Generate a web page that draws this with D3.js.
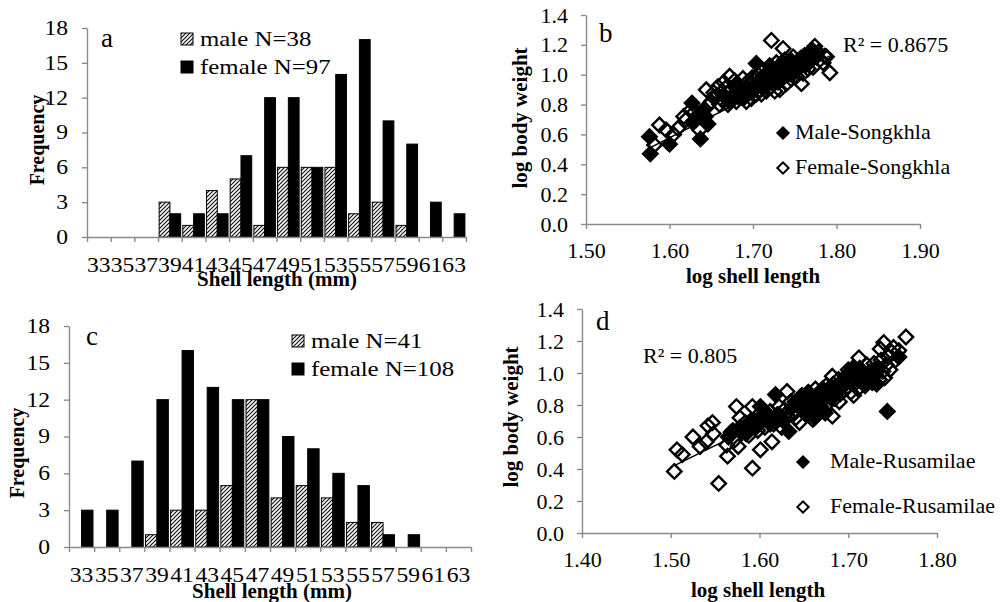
<!DOCTYPE html>
<html>
<head>
<meta charset="utf-8">
<script src="https://cdn.jsdelivr.net/npm/d3@7"></script>
<style>
  html, body { margin: 0; padding: 0; background: #fff; }
  svg { display: block; font-family: "Liberation Serif", "Times New Roman", serif; }
</style>
</head>
<body>
<div id="chart"></div>
<script>
/* Data: shell length classes (mm) and frequencies */
const lengthClasses = ['33', '35', '37', '39', '41', '43', '45', '47', '49', '51', '53', '55', '57', '59', '61', '63'];
const maleSongkhla = [0, 0, 0, 3, 1, 4, 5, 1, 6, 6, 6, 2, 3, 1, 0, 0];
const femaleSongkhla = [0, 0, 0, 2, 2, 2, 7, 12, 12, 6, 14, 17, 10, 8, 3, 2];
const maleRusamilae = [0, 0, 0, 1, 3, 3, 5, 12, 4, 5, 4, 2, 2, 0, 0, 0];
const femaleRusamilae = [3, 3, 7, 12, 16, 13, 12, 12, 9, 8, 6, 5, 1, 1, 0, 0];
const freqTicks = [0, 3, 6, 9, 12, 15, 18];

/* Data: log shell length vs log body weight */
const weightTicks = [0, 0.2, 0.4, 0.6, 0.8, 1.0, 1.2, 1.4];
const lengthTicksB = [1.5, 1.6, 1.7, 1.8, 1.9];
const lengthTicksD = [1.4, 1.5, 1.6, 1.7, 1.8];

const maleSongkhlaPts = [
  [1.577, 0.47], [1.576, 0.585], [1.600, 0.535], [1.627, 0.81], [1.636, 0.74], [1.637, 0.57],
  [1.646, 0.67], [1.632, 0.70], [1.640, 0.76], [1.628, 0.68], [1.643, 0.72],
  [1.665, 0.86], [1.672, 0.82], [1.678, 0.92], [1.680, 0.87], [1.685, 0.90], [1.690, 0.85],
  [1.695, 0.88], [1.700, 0.92], [1.704, 1.075], [1.708, 0.95], [1.712, 0.98], [1.715, 0.92],
  [1.718, 1.02], [1.720, 0.97], [1.722, 1.05], [1.725, 1.00], [1.728, 0.96], [1.730, 1.03],
  [1.735, 1.08], [1.738, 0.99], [1.742, 1.05], [1.745, 1.10], [1.750, 1.02], [1.755, 1.08],
  [1.760, 1.12], [1.768, 1.15], [1.772, 1.16]
];
const femaleSongkhlaPts = [
  [1.582, 0.53], [1.588, 0.663], [1.596, 0.63], [1.610, 0.64], [1.617, 0.72], [1.636, 0.63],
  [1.644, 0.90], [1.646, 0.79], [1.625, 0.76], [1.650, 0.82], [1.655, 0.85], [1.658, 0.92],
  [1.660, 0.80], [1.662, 0.88], [1.665, 0.95], [1.668, 0.84], [1.670, 0.80], [1.672, 0.99],
  [1.674, 0.90], [1.676, 0.86], [1.678, 0.96], [1.680, 0.82], [1.682, 0.93], [1.684, 0.88],
  [1.686, 0.85], [1.688, 0.975], [1.690, 0.91], [1.692, 0.82], [1.694, 0.87], [1.696, 0.94],
  [1.698, 0.84], [1.700, 0.89], [1.702, 0.96], [1.704, 0.87], [1.706, 1.00], [1.708, 0.90],
  [1.710, 0.87], [1.712, 1.03], [1.714, 0.94], [1.716, 0.89], [1.718, 0.99], [1.720, 1.06],
  [1.722, 1.23], [1.722, 0.92], [1.724, 1.01], [1.726, 0.89], [1.728, 1.08], [1.730, 0.95],
  [1.732, 0.90], [1.734, 1.04], [1.736, 1.175], [1.736, 0.98], [1.738, 1.10], [1.740, 0.94],
  [1.742, 1.00], [1.744, 1.07], [1.746, 0.97], [1.748, 1.12], [1.750, 1.03], [1.752, 0.99],
  [1.754, 1.09], [1.756, 1.05], [1.758, 0.94], [1.760, 1.01], [1.762, 1.13], [1.764, 1.07],
  [1.766, 1.04], [1.768, 1.10], [1.770, 1.14], [1.774, 1.19], [1.776, 1.12], [1.780, 1.10],
  [1.784, 1.08], [1.786, 1.125], [1.788, 1.12], [1.792, 1.013], [1.605, 0.60], [1.620, 0.70],
  [1.630, 0.75], [1.653, 0.88], [1.663, 0.83], [1.667, 0.91], [1.683, 0.85], [1.697, 0.90],
  [1.703, 0.93], [1.709, 0.97], [1.717, 0.95], [1.727, 1.02], [1.733, 0.98], [1.743, 1.03],
  [1.753, 1.06], [1.757, 1.11], [1.767, 1.08], [1.772, 1.05], [1.778, 1.15], [1.693, 0.95],
  [1.699, 0.98]
];

const maleRusamilaePts = [
  [1.565, 0.60], [1.570, 0.64], [1.578, 0.66], [1.585, 0.62], [1.590, 0.70], [1.596, 0.66],
  [1.601, 0.79], [1.603, 0.72], [1.608, 0.75], [1.612, 0.68], [1.618, 0.865], [1.622, 0.74],
  [1.627, 0.70], [1.633, 0.635], [1.636, 0.78], [1.640, 0.82], [1.645, 0.79], [1.648, 0.86],
  [1.652, 0.76], [1.655, 0.88], [1.658, 0.82], [1.662, 0.72], [1.665, 0.86], [1.668, 0.79],
  [1.671, 0.90], [1.674, 0.75], [1.677, 0.87], [1.681, 0.84], [1.685, 0.91], [1.690, 0.89],
  [1.695, 0.95], [1.700, 0.98], [1.705, 1.03], [1.710, 0.96], [1.715, 1.01], [1.720, 0.94],
  [1.725, 0.99], [1.730, 1.02], [1.732, 0.93], [1.744, 0.76], [1.757, 1.10]
];
const femaleRusamilaePts = [
  [1.504, 0.385], [1.507, 0.52], [1.513, 0.49], [1.525, 0.60], [1.533, 0.54], [1.540, 0.57],
  [1.542, 0.67], [1.547, 0.69], [1.548, 0.62], [1.554, 0.31], [1.563, 0.55], [1.564, 0.48],
  [1.574, 0.79], [1.576, 0.54], [1.578, 0.72], [1.592, 0.405], [1.592, 0.79], [1.601, 0.52],
  [1.614, 0.57], [1.631, 0.885], [1.682, 0.73], [1.682, 0.98], [1.712, 1.095], [1.736, 1.15],
  [1.740, 1.19], [1.751, 1.16], [1.765, 1.225],
  [1.568, 0.63], [1.572, 0.58], [1.580, 0.64], [1.584, 0.69], [1.588, 0.61], [1.594, 0.70],
  [1.598, 0.64], [1.602, 0.73], [1.606, 0.66], [1.610, 0.70], [1.612, 0.76], [1.616, 0.68],
  [1.620, 0.74], [1.622, 0.79], [1.626, 0.71], [1.628, 0.77], [1.632, 0.73], [1.635, 0.82],
  [1.638, 0.76], [1.641, 0.72], [1.644, 0.80], [1.646, 0.85], [1.648, 0.77], [1.651, 0.82],
  [1.653, 0.74], [1.655, 0.87], [1.657, 0.80], [1.659, 0.84], [1.661, 0.77], [1.663, 0.90],
  [1.665, 0.82], [1.667, 0.86], [1.669, 0.79], [1.671, 0.88], [1.673, 0.84], [1.675, 0.92],
  [1.677, 0.81], [1.679, 0.89], [1.681, 0.86], [1.683, 0.93], [1.685, 0.84], [1.687, 0.90],
  [1.689, 0.96], [1.691, 0.87], [1.693, 0.93], [1.695, 0.89], [1.697, 0.98], [1.699, 0.91],
  [1.701, 0.95], [1.703, 0.88], [1.705, 1.01], [1.707, 0.93], [1.709, 0.97], [1.711, 0.90],
  [1.713, 1.03], [1.715, 0.95], [1.717, 0.99], [1.719, 0.92], [1.721, 1.05], [1.723, 0.97],
  [1.725, 1.01], [1.727, 0.94], [1.729, 1.06], [1.731, 0.99], [1.733, 1.03], [1.735, 0.96],
  [1.737, 1.08], [1.739, 1.01], [1.741, 0.97], [1.743, 1.05], [1.745, 1.10], [1.747, 1.02],
  [1.749, 1.13], [1.753, 1.08], [1.757, 1.14], [1.660, 0.71], [1.690, 0.82], [1.706, 0.86],
  [1.645, 0.69], [1.625, 0.66], [1.700, 1.02]
];

/* Linear trendlines: [intercept, slope, xStart, xEnd] */
const trendSongkhla = [-3.999, 2.86, 1.577, 1.792];
const trendRusamilae = [-3.685, 2.73, 1.504, 1.765];

/* Setup */
const width = 1005, height = 602;
const axisColor = '#8a8a8a';

const svg = d3.select('#chart').append('svg')
  .attr('width', width)
  .attr('height', height)
  .attr('viewBox', `0 0 ${width} ${height}`);

svg.append('rect').attr('width', width).attr('height', height).attr('fill', '#fff');

const defs = svg.append('defs');
const hatch = defs.append('pattern')
  .attr('id', 'hatch')
  .attr('patternUnits', 'userSpaceOnUse')
  .attr('width', 4)
  .attr('height', 4);
hatch.append('rect').attr('width', 4).attr('height', 4).attr('fill', '#fff');
hatch.append('path')
  .attr('d', 'M-1,1 l2,-2 M0,4 l4,-4 M3,5 l2,-2')
  .attr('stroke', '#111')
  .attr('stroke-width', 1.2);

function styleAxis(sel, fontSize, stretch) {
  sel.attr('font-family', null);
  sel.select('.domain').attr('stroke', axisColor).attr('stroke-width', 1.4);
  sel.selectAll('.tick line').attr('stroke', axisColor).attr('stroke-width', 1.4);
  sel.selectAll('.tick text')
    .attr('fill', '#000')
    .attr('transform', stretch ? `scale(${stretch},1)` : null)
    .style('font-size', fontSize + 'px');
}

/* Histogram panel */
function drawHistogram(o) {
  const g = svg.append('g');

  const x = d3.scaleBand().domain(lengthClasses).range([o.left, o.right]);
  const sub = d3.scaleBand().domain(['male', 'female'])
    .range([0, x.bandwidth()]).paddingOuter(0.1);
  const y = d3.scaleLinear().domain([0, 18]).range([o.bottom, o.top]);

  const rows = lengthClasses.map((c, i) => ({ c: c, male: o.male[i], female: o.female[i] }));

  // male bars (hatched)
  g.selectAll('rect.male')
    .data(rows.filter(d => d.male > 0))
    .join('rect')
    .attr('class', 'male')
    .attr('x', d => x(d.c) + sub('male'))
    .attr('y', d => y(d.male))
    .attr('width', sub.bandwidth())
    .attr('height', d => y(0) - y(d.male))
    .attr('fill', 'url(#hatch)')
    .attr('stroke', '#000')
    .attr('stroke-width', 1);

  // female bars (solid)
  g.selectAll('rect.female')
    .data(rows.filter(d => d.female > 0))
    .join('rect')
    .attr('class', 'female')
    .attr('x', d => x(d.c) + sub('female'))
    .attr('y', d => y(d.female))
    .attr('width', sub.bandwidth())
    .attr('height', d => y(0) - y(d.female))
    .attr('fill', '#000')
    .attr('stroke', '#000')
    .attr('stroke-width', 1);

  // y axis
  const yAxis = g.append('g')
    .attr('transform', `translate(${o.left},0)`)
    .call(d3.axisLeft(y).tickValues(freqTicks).tickSize(5).tickSizeOuter(0).tickPadding(11));
  styleAxis(yAxis, 20, 1.18);

  // x axis: ticks on class boundaries
  const edge = d3.scaleLinear().domain([0, lengthClasses.length]).range([o.left, o.right]);
  const xAxis = g.append('g')
    .attr('transform', `translate(0,${o.bottom})`)
    .call(d3.axisBottom(edge).tickValues(d3.range(lengthClasses.length + 1))
      .tickFormat('').tickSize(5).tickSizeOuter(0));
  styleAxis(xAxis, 20);

  // x labels centred in each class
  const xLabels = g.append('g')
    .attr('transform', `translate(0,${o.bottom})`)
    .call(d3.axisBottom(x).tickSize(0).tickPadding(21));
  xLabels.select('.domain').remove();
  styleAxis(xLabels, 20, 1.18);

  // axis titles
  g.append('text')
    .attr('x', o.xTitle[0]).attr('y', o.xTitle[1])
    .attr('text-anchor', 'middle')
    .style('font-size', '21px').style('font-weight', 'bold')
    .text('Shell length (mm)');

  g.append('text')
    .attr('transform', `translate(${o.yTitle[0]},${o.yTitle[1]}) rotate(-90)`)
    .attr('text-anchor', 'middle')
    .style('font-size', '20px').style('font-weight', 'bold')
    .text('Frequency');

  // panel letter
  g.append('text')
    .attr('x', o.letterPos[0]).attr('y', o.letterPos[1])
    .style('font-size', '27px')
    .text(o.letter);

  // legend
  const leg = g.append('g').attr('transform', `translate(${o.legend[0]},${o.legend[1]})`);
  const items = [
    { label: 'male N=' + d3.sum(o.male), fill: 'url(#hatch)' },
    { label: 'female N=' + d3.sum(o.female), fill: '#000' }
  ];
  const li = leg.selectAll('g').data(items).join('g')
    .attr('transform', (d, i) => `translate(0,${i * 28})`);
  li.append('rect')
    .attr('x', 0).attr('y', -13)
    .attr('width', 12).attr('height', 12)
    .attr('fill', d => d.fill)
    .attr('stroke', '#000').attr('stroke-width', 1);
  li.append('text')
    .attr('transform', 'translate(19,0) scale(1.13,1)')
    .style('font-size', '22px')
    .text(d => d.label);
}

/* Scatter panel */
const diamond = d3.symbol().type(d3.symbolSquare).size(104);

function drawScatter(o) {
  const g = svg.append('g');

  const x = d3.scaleLinear().domain(d3.extent(o.xTicks)).range([o.left, o.right]);
  const y = d3.scaleLinear().domain([0, 1.4]).range([o.bottom, o.top]);

  // y axis
  const yAxis = g.append('g')
    .attr('transform', `translate(${o.left},0)`)
    .call(d3.axisLeft(y).tickValues(weightTicks).tickFormat(d3.format('.1f'))
      .tickSize(5).tickSizeOuter(0).tickPadding(13));
  styleAxis(yAxis, 22);

  // x axis
  const xAxis = g.append('g')
    .attr('transform', `translate(0,${o.bottom})`)
    .call(d3.axisBottom(x).tickValues(o.xTicks).tickFormat(d3.format('.2f'))
      .tickSize(5).tickSizeOuter(0).tickPadding(13));
  styleAxis(xAxis, 22);

  // markers: male (filled) then female (hollow)
  g.append('g').selectAll('path')
    .data(o.male)
    .join('path')
    .attr('d', diamond)
    .attr('transform', d => `translate(${x(d[0])},${y(d[1])}) rotate(45)`)
    .attr('fill', '#000')
    .attr('stroke', '#000')
    .attr('stroke-width', 2.4);

  g.append('g').selectAll('path')
    .data(o.female)
    .join('path')
    .attr('d', diamond)
    .attr('transform', d => `translate(${x(d[0])},${y(d[1])}) rotate(45)`)
    .attr('fill', 'none')
    .attr('stroke', '#000')
    .attr('stroke-width', 2.4);

  // trendline
  const t = o.trend;
  const line = d3.line().x(d => x(d)).y(d => y(t[0] + t[1] * d));
  g.append('path')
    .attr('d', line([t[2], t[3]]))
    .attr('fill', 'none')
    .attr('stroke', '#000')
    .attr('stroke-width', 1.5);

  // R squared
  g.append('text')
    .attr('x', o.r2Pos[0]).attr('y', o.r2Pos[1])
    .style('font-size', '22px')
    .text('R\u00B2 = ' + o.r2);

  // titles
  g.append('text')
    .attr('x', o.xTitle[0]).attr('y', o.xTitle[1])
    .attr('text-anchor', 'middle')
    .style('font-size', '21px').style('font-weight', 'bold')
    .text('log shell length');

  g.append('text')
    .attr('transform', `translate(${o.yTitle[0]},${o.yTitle[1]}) rotate(-90)`)
    .attr('text-anchor', 'middle')
    .style('font-size', '21px').style('font-weight', 'bold')
    .text('log body weight');

  g.append('text')
    .attr('x', o.letterPos[0]).attr('y', o.letterPos[1])
    .style('font-size', '27px')
    .text(o.letter);

  // legend
  const leg = g.append('g').attr('transform', `translate(${o.legend[0]},${o.legend[1]})`);
  const items = [
    { label: 'Male-' + o.site, fill: '#000' },
    { label: 'Female-' + o.site, fill: '#fff' }
  ];
  const li = leg.selectAll('g').data(items).join('g')
    .attr('transform', (d, i) => `translate(0,${i * o.legendGap})`);
  li.append('path')
    .attr('d', d3.symbol().type(d3.symbolSquare).size(64))
    .attr('transform', 'rotate(45)')
    .attr('fill', d => d.fill)
    .attr('stroke', '#000')
    .attr('stroke-width', 2);
  li.append('text')
    .attr('x', o.legendText).attr('y', 6)
    .style('font-size', '22px')
    .text(d => d.label);
}

drawHistogram({
  left: 87, right: 466, top: 28, bottom: 237,
  male: maleSongkhla, female: femaleSongkhla,
  xTitle: [277, 286], yTitle: [44, 140],
  letter: 'a', letterPos: [101, 47],
  legend: [181, 46]
});

drawHistogram({
  left: 69, right: 471, top: 326, bottom: 547,
  male: maleRusamilae, female: femaleRusamilae,
  xTitle: [272, 598], yTitle: [24, 453],
  letter: 'c', letterPos: [86, 345],
  legend: [292, 348]
});

drawScatter({
  left: 586, right: 920, top: 15, bottom: 224,
  xTicks: lengthTicksB,
  male: maleSongkhlaPts, female: femaleSongkhlaPts,
  trend: trendSongkhla, r2: '0.8675', r2Pos: [843, 52],
  xTitle: [753, 283], yTitle: [527, 118],
  letter: 'b', letterPos: [599, 42],
  site: 'Songkhla', legend: [783, 133], legendGap: 35, legendText: 12
});

drawScatter({
  left: 582, right: 937, top: 309, bottom: 533,
  xTicks: lengthTicksD,
  male: maleRusamilaePts, female: femaleRusamilaePts,
  trend: trendRusamilae, r2: '0.805', r2Pos: [643, 363],
  xTitle: [758, 597], yTitle: [518, 417],
  letter: 'd', letterPos: [596, 330],
  site: 'Rusamilae', legend: [803, 462], legendGap: 45, legendText: 27
});
</script>
</body>
</html>
